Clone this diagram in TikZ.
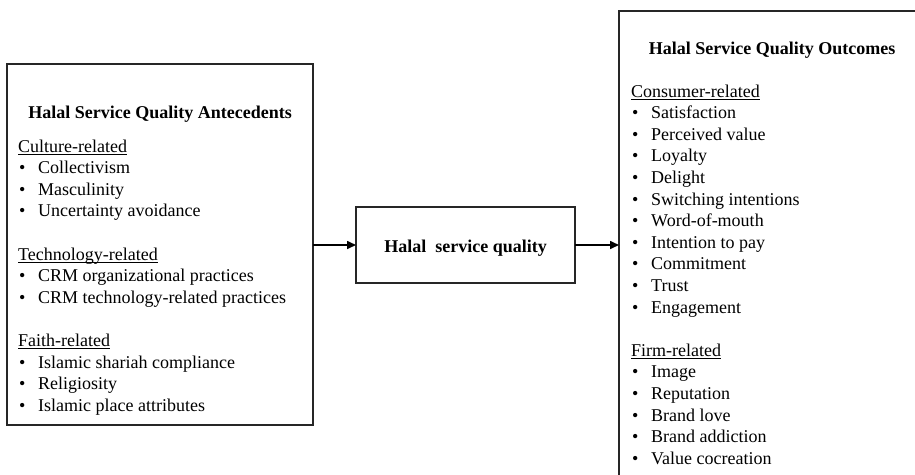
\documentclass[tikz,border=0pt]{standalone}
\usepackage{fontspec}
\setmainfont{Liberation Serif}
\usetikzlibrary{arrows.meta}
\newcommand\myul[1]{\setbox0\hbox{#1}\rlap{\rule[-2.6pt]{\wd0}{0.9pt}}\box0}
\newcommand\myitem[1]{\makebox[19pt][l]{\textbullet}#1}
\begin{document}
\begin{tikzpicture}[x=1pt,y=-1pt,
  box/.style={draw=black!85,line width=1.3pt,inner sep=0pt,outer sep=0pt},
  txt/.style={anchor=base west,inner sep=0pt,font=\fontsize{18}{21.6}\selectfont},
  ttl/.style={anchor=base,inner sep=0pt,font=\fontsize{18}{21.6}\selectfont\bfseries},
  arr/.style={line width=1.6pt,-{Triangle[length=9pt,width=8pt]}}]
\useasboundingbox (0,0) rectangle (915,474);
\clip (0,0) rectangle (915,474);
\fill[white] (0,0) rectangle (915,474);
% boxes
\node[box,minimum width=306pt,minimum height=361pt] (lbox) at (160,244.5) {};
\node[box,minimum width=219pt,minimum height=76pt] (mbox) at (465.5,245) {};
\node[box,minimum width=306pt,minimum height=480pt] (rbox) at (772,251) {};
% left box text
\node[ttl] (ltitle) at (160,118) {Halal Service Quality Antecedents};
\node[txt] (lh1) at (18,152) {\myul{Culture-related}};
\node[txt] (l1) at (19,173.6) {\myitem{Collectivism}};
\node[txt] (l2) at (19,195.2) {\myitem{Masculinity}};
\node[txt] (l3) at (19,216.8) {\myitem{Uncertainty avoidance}};
\node[txt] (lh2) at (18,260) {\myul{Technology-related}};
\node[txt] (l4) at (19,281.6) {\myitem{CRM organizational practices}};
\node[txt] (l5) at (19,303.2) {\myitem{CRM technology-related practices}};
\node[txt] (lh3) at (18,346.4) {\myul{Faith-related}};
\node[txt] (l6) at (19,368) {\myitem{Islamic shariah compliance}};
\node[txt] (l7) at (19,389.6) {\myitem{Religiosity}};
\node[txt] (l8) at (19,411.2) {\myitem{Islamic place attributes}};
% middle text
\node[ttl] (mtext) at (465.5,252) {Halal\ \ service quality};
% right box text
\node[ttl] (rtitle) at (772,54) {Halal Service Quality Outcomes};
\node[txt] (rh1) at (631,97) {\myul{Consumer-related}};
\foreach \t [count=\i] in {Satisfaction,Perceived value,Loyalty,Delight,Switching intentions,Word-of-mouth,Intention to pay,Commitment,Trust,Engagement}
  \node[txt] (r\i) at (632,97+\i*21.6) {\myitem{\t}};
\node[txt] (rh2) at (631,356.2) {\myul{Firm-related}};
\foreach \t [count=\i] in {Image,Reputation,Brand love,Brand addiction,Value cocreation}
  \node[txt] (f\i) at (632,356.2+\i*21.6) {\myitem{\t}};
% arrows
\draw[arr] (lbox.east |- mbox.west) -- (mbox.west);
\draw[arr] (mbox.east) -- (mbox.east -| rbox.west);
\end{tikzpicture}
\end{document}
